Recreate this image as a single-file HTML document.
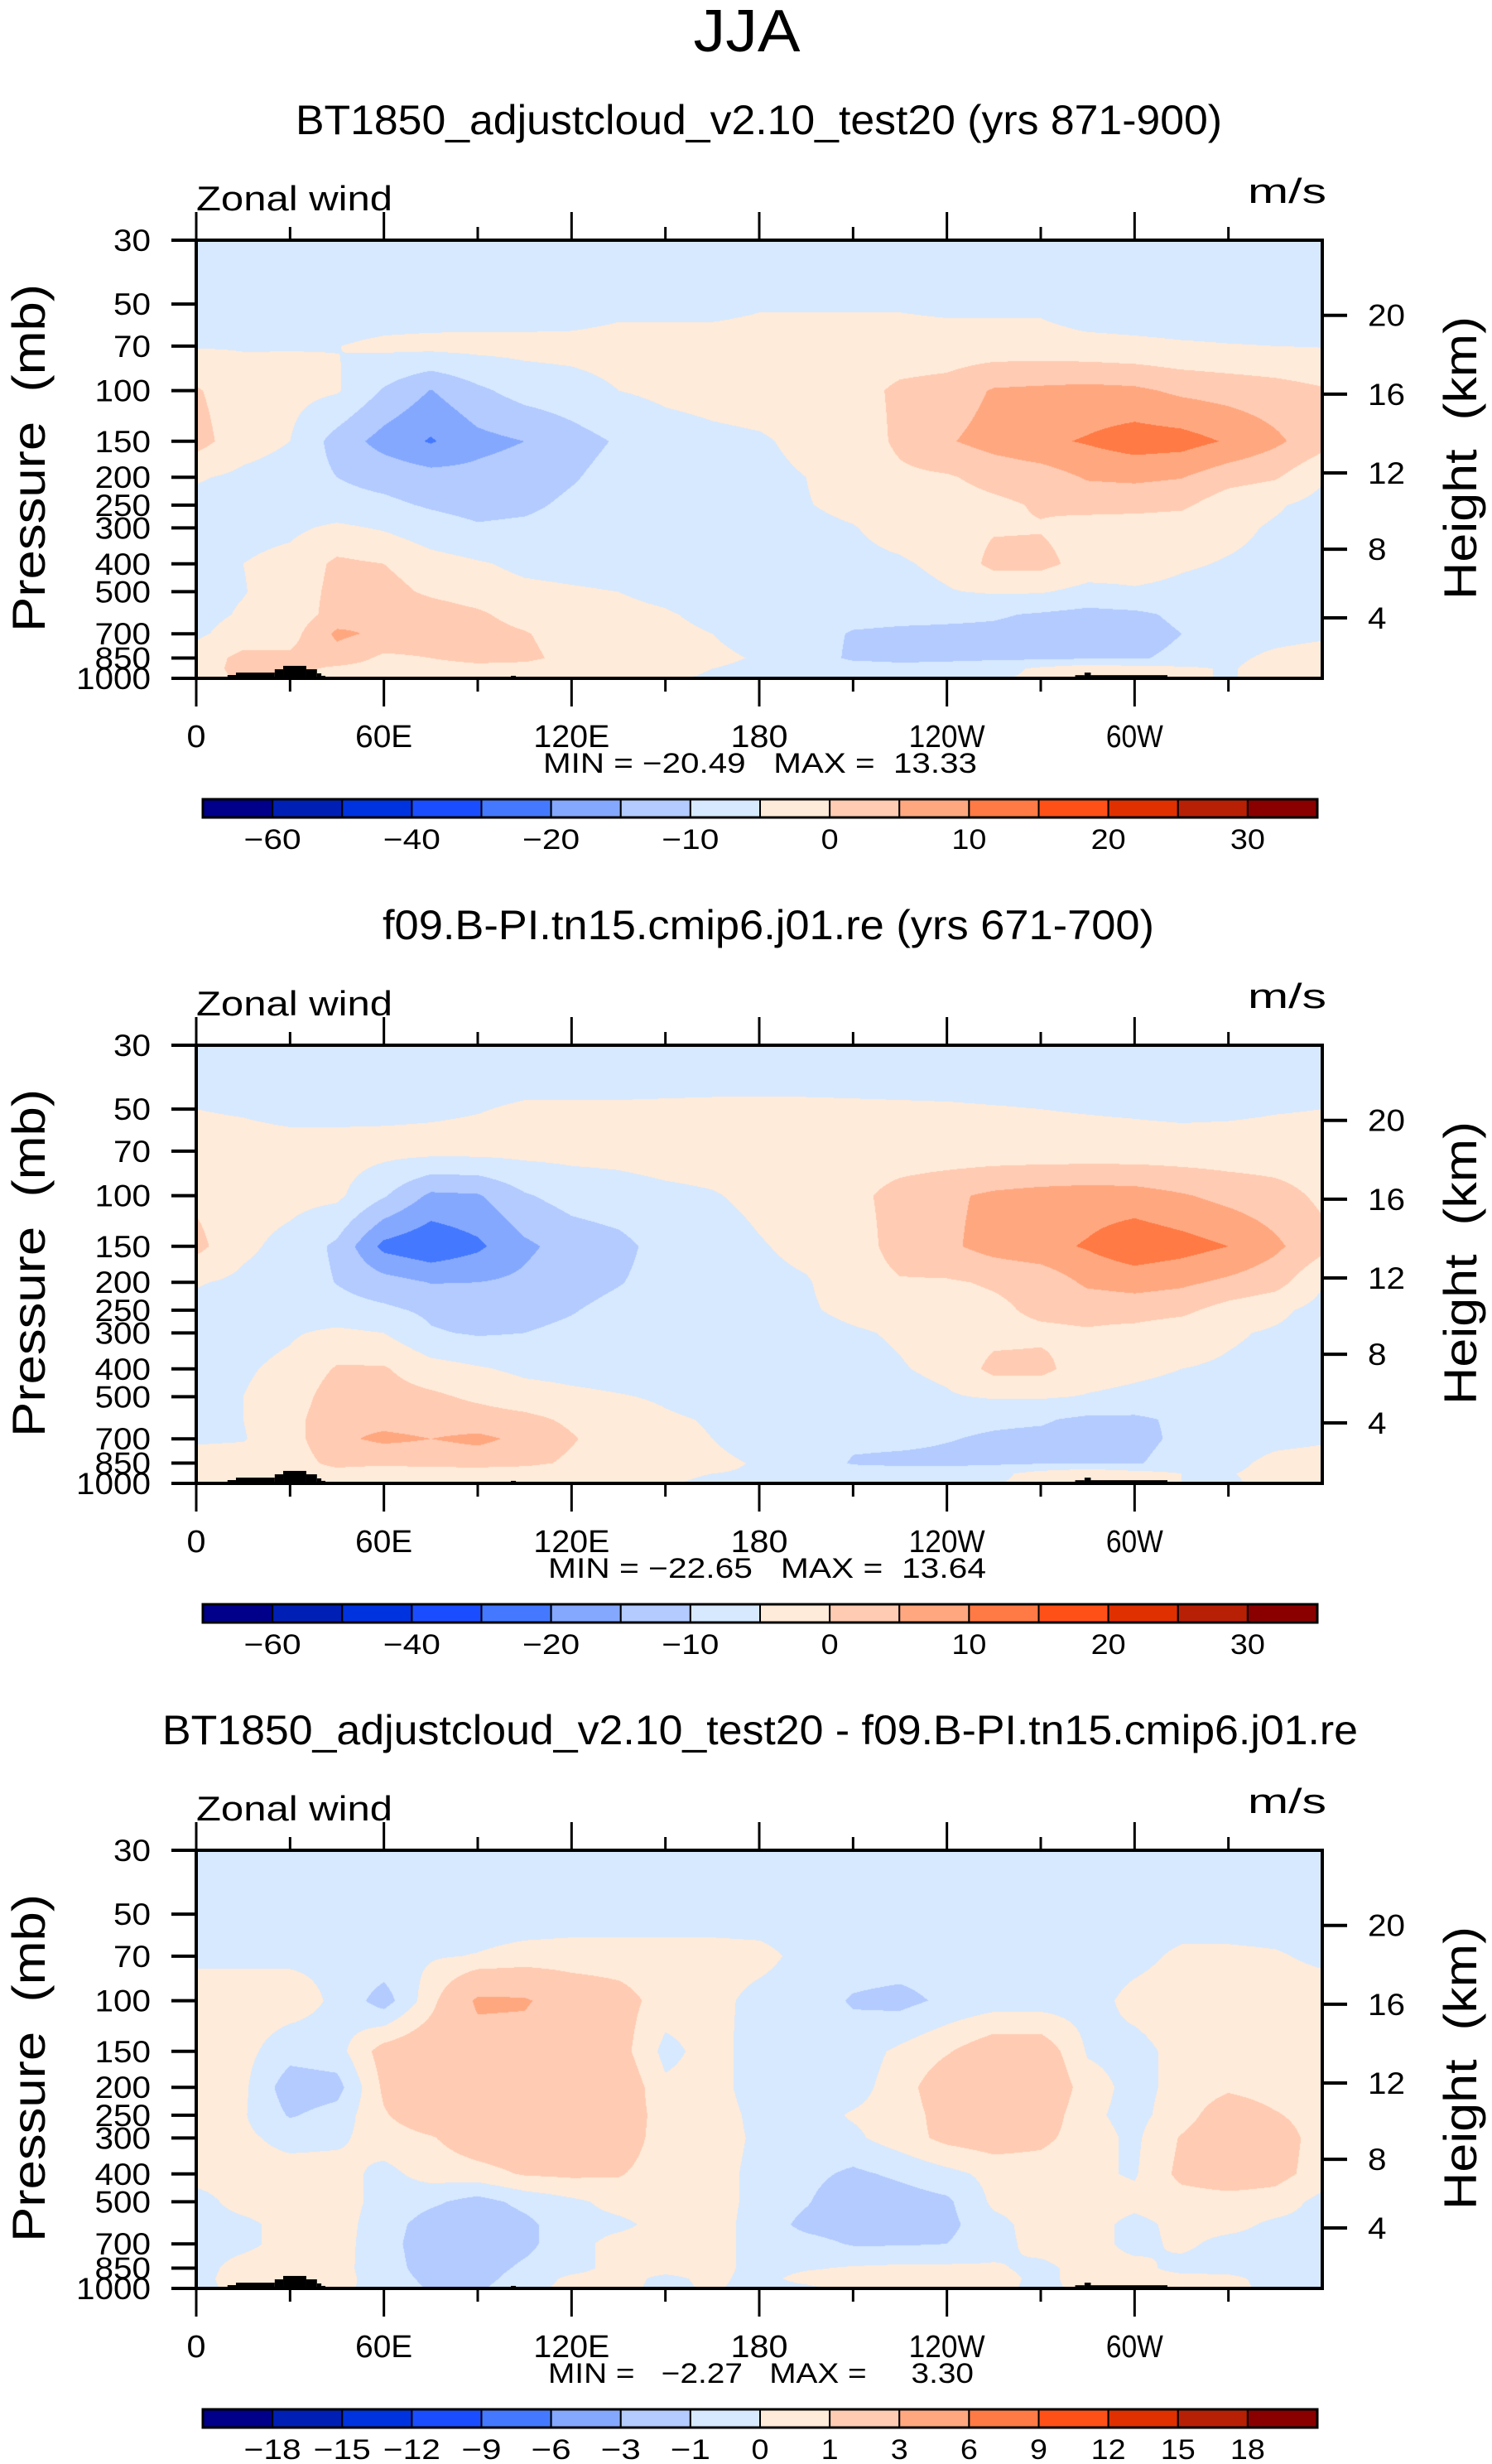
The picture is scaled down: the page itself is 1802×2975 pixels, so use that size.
<!DOCTYPE html>
<html><head><meta charset="utf-8">
<style>
html,body{margin:0;padding:0;background:#fff;}
#wrap{position:relative;width:1802px;height:2975px;overflow:hidden;background:#fff;}
canvas{position:absolute;}
svg{position:absolute;left:0;top:0;}
text{font-family:"Liberation Sans",sans-serif;fill:#000;white-space:pre;}
</style></head>
<body>
<div id="wrap">
<canvas id="c0" width="1360" height="529" style="left:237px;top:290px"></canvas>
<canvas id="c1" width="1360" height="529" style="left:237px;top:1262px"></canvas>
<canvas id="c2" width="1360" height="529" style="left:237px;top:2234px"></canvas>
<svg id="ov" width="1802" height="2975" xmlns="http://www.w3.org/2000/svg"></svg>
</div>
<script>
// ---------- data ----------
const levels = [30,50,70,100,150,200,250,300,400,500,600,700,850,925,1000];
const lons = [0,15,30,45,60,75,90,105,120,135,150,165,180,195,210,225,240,255,270,285,300,315,330,345,360];
const lonTicks = [0,60,120,180,240,300];
const lonLabels = ["0","60E","120E","180","120W","60W"];
const presTicks = [30,50,70,100,150,200,250,300,400,500,700,850,1000];
const heightTicks = [4,8,12,16,20];
const colors = ["#00008a","#0020b5","#0033e0","#1a4dff","#4479ff","#85a8ff","#b3cbff","#d6e9ff","#ffebd9","#ffcbb3","#ffa880","#ff7a45","#ff5018","#e03000","#b82005","#8a0000"];
const bounds1 = [-60,-50,-40,-30,-20,-15,-10,-5,0,5,10,15,20,25,30];
const boundsD = [-18,-15,-12,-9,-6,-3,-1,0,1,3,6,9,12,15,18];
const cbLabels1 = ["-60","","-40","","-20","","-10","","0","","10","","20","","30"];
const cbLabelsD = ["-18","-15","-12","-9","-6","-3","-1","0","1","3","6","9","12","15","18"];
const topo = [[10,12.7,974],[12.7,25.1,955],[25.1,27.8,930],[27.8,35.2,905],[35.2,38.6,930],[38.6,40,961],[40,41.3,980],[100.6,102.2,980],[281,284,975],[284,286,955],[286,310.5,975]];
const titles = ["BT1850_adjustcloud_v2.10_test20 (yrs 871-900)","f09.B-PI.tn15.cmip6.j01.re (yrs 671-700)","BT1850_adjustcloud_v2.10_test20 - f09.B-PI.tn15.cmip6.j01.re"];
const minmax = ["MIN = \u221220.49   MAX =  13.33","MIN = \u221222.65   MAX =  13.64","MIN =   \u22122.27   MAX =     3.30"];

const u1 = [
[-8,-8,-8,-8,-8,-8,-8,-8,-8,-8,-8,-8,-8,-8,-8,-8,-8,-8,-8,-8,-8,-8,-8,-8,-8],
[-8,-8,-8,-8,-8,-8,-8,-8,-8,-6.5,-6.5,-6.5,-5.5,-5.5,-5.5,-5.5,-6,-6,-6,-8,-8,-8,-8,-8,-8],
[-5.3,-5.3,-5.2,-5.1,-4,-3.6,-3.5,-3.5,-3.3,-3,-3,-3,-3,-3,-3,-3,-3,-3,-3,-3.5,-4,-4.5,-4.8,-5,-5.2],
[0.5,-3,-3.5,-4.5,-10.5,-15.2,-11,-8,-7,-5,-4,-3.5,-3,-3,-2,1,2,5.5,6,6.5,6,4,3,2,0.5],
[2,-3,-5,-12,-17,-20.5,-16.5,-15,-12,-9.5,-7,-6,-5.5,-4,-3,1,4.5,7,9,10.5,12.5,12,9.5,6,2],
[-4.5,-6,-7,-10,-11.5,-13,-13.5,-12.5,-10.5,-8,-7,-6.5,-6,-5,-3,-1,-0.5,1.5,2.5,5.5,6,5.2,2,0.5,-4.5],
[-6.5,-7,-7.5,-8.5,-9,-10.5,-11.5,-11,-9,-8,-7.5,-7,-6.5,-5.2,-4,-3,-2,-1,0.5,1.5,1.5,1,-3,-4.5,-6.5],
[-6.5,-6.5,-6,-4,-5.5,-8,-9.5,-9,-8,-7.5,-7,-7,-6.5,-6,-5.2,-3.5,-2,-0.5,-0.3,-2,-2.5,-3,-4,-5.5,-6.5],
[-7,-5,-3.5,1,0,-3,-4.5,-6,-6.5,-7,-7,-7,-6.5,-6.5,-6,-5.5,-4,1.5,1.5,-2,-3,-4.5,-5.3,-6,-7],
[-6.5,-5.2,-3,1.5,2,-1,-3,-4,-4.5,-5,-5.5,-6.5,-7,-7,-7,-6.5,-5.3,-4.5,-4.6,-6.5,-5.5,-6,-6.5,-6.8,-6.5],
[-6.5,-4.5,-3,2,5,3,1,-2.5,-4,-4.5,-4.8,-5.5,-7,-7.5,-8,-8.5,-9,-9.5,-10.5,-11.5,-11,-9,-7,-6.5,-6.5],
[-5.8,-3,-2,6,4,3,2.5,0.5,-3,-4,-4.5,-5,-6,-7.5,-10.5,-11,-11,-11,-11.5,-12,-12,-10,-7,-6.5,-5.8],
[-3,1.5,1,3,-1,0,2,1.5,-2,-3.5,-4,-4.5,-5.2,-7,-11,-11.5,-11,-10.8,-11,-10.5,-10.5,-9,-6,-4,-3],
[-3,2,1.5,-1,-2,-2.5,-2,-2.5,-3.5,-4,-4.5,-5,-5.5,-6.5,-7,-8,-8,-7,-4,-2,-3,-4,-5.5,-3,-3],
[-3,1,1,-1.5,-2.5,-3,-3,-3.5,-4,-4.5,-4.8,-5.2,-6,-6.5,-6.5,-6.5,-6,-5.5,-4,-2,-3,-4,-5.5,-3,-3]
];
const u2 = [
[-8,-8,-8,-8,-8,-8,-8,-8,-8,-8,-8,-8,-8,-8,-8,-8,-8,-8,-8,-8,-8,-8,-8,-8,-8],
[-5,-5.5,-6.5,-6.5,-6,-5.7,-5.2,-4.5,-4.5,-4.5,-4.4,-4.3,-4.3,-4.3,-4.4,-4.5,-4.6,-4.8,-5,-5.3,-5.6,-6,-5.8,-5.3,-5],
[-3,-3,-3,-3,-3.5,-3.5,-3.5,-3.5,-3.5,-3.5,-3,-3,-3,-3,-3,-3,-3,-3,-3,-3,-3,-3,-3,-3,-3],
[-1,-3,-3.5,-4,-9.5,-16,-15.5,-10.5,-8,-7,-6,-5.3,-4,-3,-1.5,2,4,6,7,7.5,7.2,5.5,3.5,2,-1],
[1.5,-4,-6.5,-11,-21.5,-24,-21,-16,-13,-11.5,-8,-7,-5.3,-4,-3,2.5,4,7,8.5,10.5,13.5,12,10,6,1.5],
[-4.6,-6,-7,-10.2,-13,-15.2,-15,-14,-12,-10.3,-8,-7,-6,-5.3,-3,-0.5,-0.5,0.5,1.5,6,7,6,4,2,-4.6],
[-6.5,-7,-7.5,-8,-9,-11,-12.5,-11.5,-10.3,-8.5,-7.5,-7,-6.5,-5.5,-4,-3,-2,-1,1,1.5,2,1.2,-2,-4,-6.5],
[-6.5,-6.5,-5.5,-4,-5,-9.5,-10.5,-10,-9,-8,-7.5,-7,-7,-6.5,-5.5,-4.5,-3,-1.5,-1,-0.5,-1.5,-3,-4.5,-5.5,-6.5],
[-7,-5.5,-4,0.5,0.5,-3,-4.5,-6,-6.5,-7,-7,-7,-7,-7,-6.5,-5.3,-4,1.5,1.5,-3,-4,-5,-5.5,-6,-7],
[-6.5,-5,-3,3,2,1,-1,-3,-4,-4.7,-5.5,-6.5,-7,-7.5,-7,-6.5,-5.5,-4.5,-4.5,-5.3,-6,-6.5,-6.8,-7,-6.5],
[-6.5,-5,-2,4,3.5,3,2.5,1.5,-1,-3,-4.5,-5.3,-6.5,-7.5,-8,-8.5,-9,-9.3,-9.5,-11,-11,-9,-7,-6.5,-6.5],
[-5.5,-5.3,-2,4,6,5,6,4,0.5,-3,-4,-5,-6,-7,-9,-9,-9.8,-10.5,-11,-11.5,-11.5,-9,-7,-6,-5.5],
[-3.5,-3,-2.5,1.5,1,2,2.5,1.5,-1,-2.5,-3.5,-4.5,-5.2,-6.5,-10.5,-11,-11,-10.8,-10.5,-10.5,-10.5,-8,-6,-4,-3.5],
[-3,-3,-2.5,-2,-3,-3.5,-3.5,-3.5,-4,-4.5,-4.8,-5,-5.2,-6,-7,-7.5,-7.5,-6.5,-3,-1,-3,-5,-5.2,-4,-3],
[-3,-3,-3,-3,-3.5,-4,-4,-4,-4.5,-4.7,-4.9,-5.2,-5.5,-6,-6.5,-6.5,-6,-5.5,-3,-1,-3,-5,-5.5,-4,-3]
];
const ud = [
[-0.5,-0.5,-0.5,-0.5,-0.5,-0.5,-0.5,-0.5,-0.5,-0.5,-0.5,-0.5,-0.5,-0.5,-0.5,-0.5,-0.5,-0.5,-0.5,-0.5,-0.5,-0.5,-0.5,-0.5,-0.5],
[-0.5,-0.5,-0.5,-0.5,-0.5,-0.5,-0.5,-0.5,-0.5,-0.5,-0.5,-0.5,-0.5,-0.5,-0.5,-0.5,-0.5,-0.5,-0.5,-0.5,-0.5,-0.5,-0.5,-0.5,-0.5],
[-0.2,-0.2,-0.2,-0.2,-0.3,-0.1,0.05,0.3,0.4,0.4,0.4,0.4,0.3,-0.3,-0.5,-0.5,-0.5,-0.5,-0.5,-0.5,-0.3,0.2,0.2,0.1,-0.2],
[0.5,0.5,0.5,-0.2,-1.5,0.6,3.3,3.2,2,1.5,0.5,0.3,-0.3,-0.5,-1.1,-1.3,-0.8,-0.5,-0.5,-0.4,0.3,0.5,0.5,0.5,0.5],
[0.5,0.3,-0.6,-0.4,1.5,2,2.2,2.2,2,1.5,-0.3,0.4,-0.5,-0.6,-0.5,0.2,0.9,1.8,1.8,-0.1,-0.3,0.3,0.5,0.5,0.5],
[0.5,0.2,-1.6,-1.4,1.2,2,2.3,2.3,2.2,2,0.2,0.4,-0.5,-0.5,-0.4,0.5,1.8,2.2,2.3,0.4,-0.3,0.3,0.8,0.5,0.5],
[0.5,0.1,-1.1,-0.6,0.9,1.8,2,2.1,2,1.8,0.5,0.5,-0.3,-0.4,0.1,0.4,1.5,2,1.8,0.2,-0.3,0.5,1.8,1.1,0.5],
[0.5,0.2,-0.3,-0.2,0.5,0.9,1.7,1.9,2,1.8,0.4,0.5,-0.2,-0.4,-0.2,0.5,1.3,1.6,1.3,0.4,-0.2,1.1,2,1.6,0.5],
[0.3,0.3,0.4,0.4,-0.3,0.4,0.6,1.1,1.2,1.1,0.4,0.4,-0.3,-0.7,-1.2,-0.8,-0.3,0.3,0.4,0.2,-0.1,1.3,1.8,1.4,0.5],
[-0.3,0.3,0.4,0.4,-0.3,-0.8,-1.4,-0.7,-0.2,0.3,0.4,0.4,-0.3,-0.9,-1.8,-1.5,-1.2,0.2,0.4,0.4,0.3,0.5,0.5,0.5,-0.3],
[-0.3,-0.2,0.3,0.4,-0.5,-1.5,-1.8,-1.3,-0.3,-0.2,0.3,0.4,-0.4,-1.3,-1.6,-1.7,-1.3,-0.3,0.4,0.4,-0.3,0.3,0.3,-0.2,-0.3],
[-0.3,-0.2,0.3,0.4,-0.6,-1.6,-1.7,-1.3,-0.3,0.3,0.3,0.4,-0.4,-0.6,-1.1,-1.1,-1,-0.3,0.3,0.4,-0.3,0.2,-0.3,-0.3,-0.3],
[-0.3,0.3,0.4,0.3,-0.5,-1.5,-1.5,-0.8,-0.3,0.3,0.3,0.3,-0.3,-0.1,0.1,0.2,0.2,0.1,-0.2,0.3,0.3,-0.3,-0.3,-0.3,-0.3],
[-0.2,0.3,0.3,0.3,-0.4,-1.3,-1.4,-0.5,0.2,0.3,-0.2,0.2,-0.3,0.3,0.4,0.4,0.4,0.3,-0.2,0.3,0.3,0.3,0.2,-0.3,-0.2],
[-0.2,0.2,0.3,0.2,-0.3,-1.1,-1.2,-0.2,0.2,0.2,-0.2,0.1,-0.3,-0.2,0.3,0.3,0.3,0.2,-0.2,0.2,0.2,0.2,0.3,-0.3,-0.2]
];
const fields = [u1,u2,ud];
const fieldBounds = [bounds1,bounds1,boundsD];
const fieldCbLabels = [cbLabels1,cbLabels1,cbLabelsD];

// ---------- geometry ----------
const PX0 = 237, PW = 1360, PH = 529, PANEL_DY = 972, TOP0 = 290;
const LOGSPAN = Math.log10(1000/30);
function xOf(lon){ return PX0 + lon/360*PW; }
function yOf(p, top){ return top + Math.log10(p/30)/LOGSPAN*PH; }
function pOfZ(z){ return z<=11 ? 1013.25*Math.pow(1-0.0065*z*1000/288.15,5.2559) : 226.32*Math.exp(-0.1577*(z-11)); }

// ---------- draw fields ----------
function colorIdx(v,b){ let k=0; while(k<b.length && v>=b[k]) k++; return k; }
function hex(c){ return [parseInt(c.slice(1,3),16),parseInt(c.slice(3,5),16),parseInt(c.slice(5,7),16)]; }
const rgb = colors.map(hex);
const llog = levels.map(p=>Math.log10(p));
fields.forEach((F,k)=>{
  const cv = document.getElementById('c'+k);
  const ctx = cv.getContext('2d');
  const img = ctx.createImageData(PW,PH);
  const b = fieldBounds[k];
  for(let py=0; py<PH; py++){
    const lp = Math.log10(30) + (py+0.5)/PH*LOGSPAN;
    let j=0; while(j<levels.length-2 && lp>llog[j+1]) j++;
    const t = Math.min(1,Math.max(0,(lp-llog[j])/(llog[j+1]-llog[j])));
    const r0 = F[j], r1 = F[j+1];
    for(let px=0; px<PW; px++){
      const lon = (px+0.5)/PW*360;
      let i = Math.min(lons.length-2, Math.floor(lon/15));
      const s = (lon - lons[i])/15;
      const v = (1-t)*((1-s)*r0[i]+s*r0[i+1]) + t*((1-s)*r1[i]+s*r1[i+1]);
      const c = rgb[colorIdx(v,b)];
      const o = (py*PW+px)*4;
      img.data[o]=c[0]; img.data[o+1]=c[1]; img.data[o+2]=c[2]; img.data[o+3]=255;
    }
  }
  ctx.putImageData(img,0,0);
});

// ---------- overlay ----------
const NS = "http://www.w3.org/2000/svg";
const ov = document.getElementById('ov');
function el(tag, attrs, parent, name){
  const e = document.createElementNS(NS, tag);
  for(const a in attrs) e.setAttribute(a, attrs[a]);
  
  
  (parent||ov).appendChild(e);
  return e;
}
function txt(x,y,s,size,anchor,name,len,parent,extra){
  const a = {x:x,y:y,'font-size':size,'text-anchor':anchor||'start'};
  if(len){ a.textLength=len; a.lengthAdjust='spacingAndGlyphs'; }
  if(extra) for(const k in extra) a[k]=extra[k];
  const t = el('text', a, parent, name);
  t.textContent = s;
  return t;
}
function line(x1,y1,x2,y2,w,name,parent){
  return el('line',{x1:x1,y1:y1,x2:x2,y2:y2,stroke:'#000','stroke-width':w},parent,name);
}

txt(902,62,"JJA",72,'middle','figure-title',129,null,{'font-weight':'normal'});

for(let k=0;k<3;k++){
  const top = TOP0 + k*PANEL_DY;
  const bot = top + PH;
  const dy = k*PANEL_DY;
  const g = el('g',{},ov,'panel-'+(k+1));
  const tl = [[357,1476],[462,1394],[196,1640]][k];
  txt((tl[0]+tl[1])/2, 162+dy, titles[k], 50, 'middle', 'panel-title', tl[1]-tl[0], g);
  txt(237, 254+dy, "Zonal wind", 42, 'start', 'field-label', 237, g);
  txt(1602, 245+dy, "m/s", 42, 'end', 'units-label', 95, g);
  topo.forEach(tp=>{
    el('rect',{x:xOf(tp[0]),y:yOf(tp[2],top),width:xOf(tp[1])-xOf(tp[0]),height:bot-yOf(tp[2],top),fill:'#000'},g,'topography');
  });
  el('rect',{x:PX0,y:top,width:PW,height:PH,fill:'none',stroke:'#000','stroke-width':4},g,'plot-frame');
  for(let lon=0; lon<360; lon+=30){
    const major = lon%60===0;
    const L = major?34:16;
    const x = xOf(lon);
    line(x,top,x,top-L,3,'top-tick',g);
    line(x,bot,x,bot+L,3,'bottom-tick',g);
  }
  lonTicks.forEach((lon,i)=>{
    const s = lonLabels[i];
    txt(xOf(lon), 902+dy, s, 38, 'middle', 'x-tick-label', s.length*23, g);
  });
  presTicks.forEach(p=>{
    const y = yOf(p,top);
    line(PX0, y, PX0-30, y, 4, 'y-tick', g);
    const s = String(p);
    txt(182, y+13, s, 37, 'end', 'y-tick-label', s.length*22.5, g);
  });
  heightTicks.forEach(z=>{
    const y = yOf(pOfZ(z),top);
    line(PX0+PW, y, PX0+PW+30, y, 4, 'height-tick', g);
    const s = String(z);
    txt(1652, y+13, s, 37, 'start', 'height-tick-label', s.length*22.5, g);
  });
  txt(0,0,"Pressure  (mb)",56,'middle','y-axis-title',420,g,{transform:'translate(54,'+(553+dy)+') rotate(-90)'});
  txt(0,0,"Height  (km)",56,'middle','right-axis-title',342,g,{transform:'translate(1783,'+(553+dy)+') rotate(-90)'});
  const mm = [[656,1180],[662,1191],[662,1176]][k];
  txt((mm[0]+mm[1])/2, 933+dy, minmax[k], 34, 'middle', 'min-max-label', mm[1]-mm[0], g);
  const cbx=245, cbw=1346, cby=965+dy, cbh=22, n=colors.length, bw=cbw/n;
  colors.forEach((c,i)=>{
    el('rect',{x:cbx+i*bw,y:cby,width:bw,height:cbh,fill:c,stroke:'#000','stroke-width':2},g,'colorbar-box');
  });
  el('rect',{x:cbx,y:cby,width:cbw,height:cbh,fill:'none',stroke:'#000','stroke-width':3},g,'colorbar-frame');
  fieldCbLabels[k].forEach((s,i)=>{
    if(!s) return;
    const ss = s.replace('-','\u2212');
    txt(cbx+(i+1)*bw, 1025+dy, ss, 34, 'middle', 'colorbar-label', (s.length)*21+ (s[0]==='-'?6:0), g);
  });
}
</script>
</body></html>
